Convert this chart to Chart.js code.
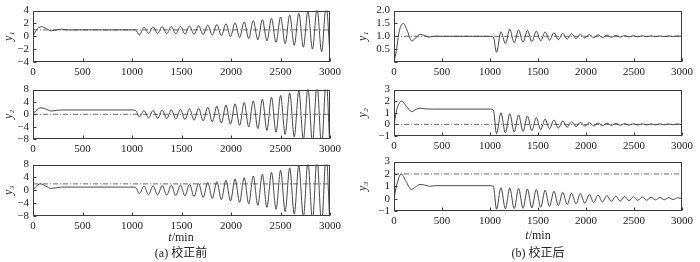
<!DOCTYPE html>
<html><head><meta charset="utf-8">
<script src="https://cdn.jsdelivr.net/npm/chart.js@4.4.1/dist/chart.umd.min.js"></script>
<style>
html,body{margin:0;padding:0;background:#fff;width:700px;height:262px;overflow:hidden;position:relative;}
canvas{position:absolute;}
.cap{position:absolute;width:120px;text-align:center;font-family:"Liberation Serif","Noto Sans CJK SC",serif;font-size:12px;line-height:14px;color:#222;white-space:nowrap;}
</style></head><body>
<canvas id="a1" width="346" height="78" style="left:0;top:0"></canvas>
<canvas id="a2" width="346" height="76" style="left:0;top:79px"></canvas>
<canvas id="a3" width="346" height="78" style="left:0;top:154px"></canvas>
<canvas id="b1" width="341" height="78" style="left:356px;top:0"></canvas>
<canvas id="b2" width="341" height="73" style="left:356px;top:79px"></canvas>
<canvas id="b3" width="341" height="76" style="left:356px;top:151px"></canvas>
<div class="cap" style="left:121px;top:230px"><i>t</i>/min</div>
<div class="cap" style="left:121px;top:246px">(a) 校正前</div>
<div class="cap" style="left:478px;top:228px"><i>t</i>/min</div>
<div class="cap" style="left:478px;top:246px">(b) 校正后</div>
<script>
// ---------- data ----------
const xTicks = [0, 500, 1000, 1500, 2000, 2500, 3000];

// (a) before correction: start-up transient
const tA1Init = [0, 30, 85, 135, 185, 240, 290, 350, 1000, 1035];
const yA1Init = [0, 0.9, 1.5, 1.2, 0.85, 1.0, 1.1, 1.0, 1.0, 1.0];
const tA2Init = [0, 30, 80, 130, 185, 240, 300, 1000, 1035];
const yA2Init = [0, 1.2, 2.1, 1.7, 1.05, 1.3, 1.4, 1.4, 1.3];
const tA3Init = [0, 25, 75, 130, 180, 240, 290, 1000, 1035];
const yA3Init = [0, 1.0, 2.0, 1.3, 0.6, 0.8, 1.0, 1.0, 0.9];
// (a) growing oscillation after the disturbance (extrema times)
const tAOsc = [1075,1121,1167,1213,1259,1305,1351,1397,1443,1489,1535,1581,1627,1673,1719,1765,1811,1857,1903,1949,1995,2041,2087,2133,2179,2225,2271,2317,2363,2409,2455,2501,2547,2593,2639,2685,2731,2777,2823,2869,2915,2961,3000];
const yA1Osc = [0.2,1.4,0.45,1.45,0.45,1.5,0.42,1.52,0.4,1.55,0.35,1.6,0.32,1.65,0.28,1.75,0.2,1.85,0.1,1.95,-0.05,2.1,-0.2,2.25,-0.35,2.45,-0.55,2.6,-0.7,2.8,-0.95,3.0,-1.15,3.3,-1.4,3.6,-1.7,3.9,-2.0,4.3,-2.4,4.8,-2.9];
const yA2Osc = [-0.8,1.2,-1.2,1.25,-1.3,1.35,-1.4,1.45,-1.5,1.6,-1.7,1.8,-1.9,2.0,-2.15,2.3,-2.45,2.6,-2.8,3.0,-3.2,3.4,-3.6,3.85,-4.1,4.35,-4.6,4.9,-5.2,5.5,-5.8,6.1,-6.5,6.9,-7.3,7.7,-8.2,8.7,-9.2,9.7,-10.3,10.9,-11.5];
const yA3Osc = [-1.0,1.3,-1.4,1.4,-1.45,1.5,-1.5,1.55,-1.6,1.65,-1.75,1.85,-1.95,2.1,-2.25,2.4,-2.55,2.7,-2.9,3.1,-3.3,3.5,-3.7,3.95,-4.2,4.45,-4.7,5.0,-5.3,5.6,-5.9,6.2,-6.6,7.0,-7.4,7.8,-8.3,8.8,-9.3,9.8,-10.4,11.0,-11.6];

// (b) after correction: start-up transient
const tB1Init = [0, 25, 55, 97, 140, 184, 230, 270, 320, 357, 420, 1000, 1035];
const yB1Init = [0, 0.45, 1.2, 1.5, 1.2, 0.82, 0.95, 1.07, 1.03, 0.97, 1.0, 1.0, 0.97];
const tB2Init = [0, 30, 80, 130, 184, 230, 270, 330, 400, 1000, 1035];
const yB2Init = [0, 1.3, 2.0, 1.55, 1.1, 1.3, 1.4, 1.33, 1.32, 1.32, 1.25];
const tB3Init = [0, 25, 75, 125, 180, 225, 270, 320, 370, 430, 1000, 1035];
const yB3Init = [0, 1.0, 2.0, 1.4, 0.75, 0.95, 1.15, 1.1, 1.0, 1.05, 1.05, 1.0];
// (b) decaying oscillation after the disturbance (extrema times)
const tBOsc = [1068,1114,1160,1206,1252,1298,1344,1390,1436,1482,1528,1574,1620,1666,1712,1758,1804,1850,1896,1942,1988,2034,2080,2126,2172,2218,2264,2310,2356,2402,2448,2494,2540,2586,2632,2678,2724,2770,2816,2862,2908,2954,3000];
const yB1Osc = [0.38,1.18,0.72,1.27,0.75,1.25,0.77,1.23,0.79,1.2,0.82,1.17,0.85,1.14,0.87,1.12,0.89,1.1,0.91,1.08,0.93,1.07,0.94,1.055,0.95,1.045,0.96,1.035,0.97,1.03,0.975,1.025,0.978,1.02,0.982,1.018,0.985,1.015,0.987,1.013,0.988,1.012,1.0];
const yB2Osc = [-0.8,1.0,-0.72,0.92,-0.65,0.82,-0.6,0.72,-0.53,0.58,-0.45,0.46,-0.38,0.37,-0.31,0.29,-0.25,0.23,-0.2,0.18,-0.16,0.15,-0.13,0.12,-0.11,0.1,-0.09,0.085,-0.075,0.07,-0.065,0.06,-0.055,0.05,-0.045,0.045,-0.04,0.04,-0.035,0.035,-0.03,0.03,0.0];
const yB3Osc = [-0.85,0.88,-0.82,0.85,-0.8,0.82,-0.78,0.78,-0.75,0.74,-0.7,0.68,-0.63,0.6,-0.56,0.52,-0.48,0.45,-0.42,0.4,-0.37,0.34,-0.31,0.29,-0.27,0.25,-0.23,0.21,-0.19,0.18,-0.16,0.15,-0.14,0.13,-0.12,0.11,-0.1,0.09,-0.085,0.08,-0.075,0.07,0.0];

// set-point (dash-dot reference) levels
const refA = [1, 0, 2];
const refB = [1, 0, 2];
const yLabels = ['y\u2081', 'y\u2082', 'y\u2083'];

// ---------- drawing ----------
const FONT = '"Liberation Serif","Times New Roman",serif';
const toPts = (ts, ys) => ts.map((t, i) => ({x: t, y: ys[i]}));

const frame = {
  id: 'frame',
  afterDatasetsDraw(chart) {
    const {ctx, chartArea: a, scales: {x, y}} = chart;
    ctx.save();
    ctx.strokeStyle = '#3c3c3c';
    ctx.lineWidth = 1;
    const L = Math.round(a.left) + 0.5, R = Math.round(a.right) - 0.5;
    const T = Math.round(a.top) + 0.5, B = Math.round(a.bottom) - 0.5;
    ctx.strokeRect(L, T, R - L, B - T);
    ctx.beginPath();
    x.ticks.forEach(tk => {
      const px = Math.round(x.getPixelForValue(tk.value)) + 0.5;
      ctx.moveTo(px, B); ctx.lineTo(px, B - 3);
    });
    y.ticks.forEach(tk => {
      const py = Math.round(y.getPixelForValue(tk.value)) + 0.5;
      ctx.moveTo(L, py); ctx.lineTo(L + 3, py);
    });
    ctx.stroke();
    ctx.restore();
  }
};

function fmtMinus(s) { return String(s).replace('-', '\u2212'); }

function make(id, pts, ref, yMin, yMax, yStep, title, yW, dec, hideZero) {
  new Chart(document.getElementById(id), {
    type: 'line',
    data: {
      datasets: [
        {data: [{x: 0, y: ref}, {x: 3000, y: ref}], borderColor: '#444', borderWidth: 0.8,
         borderDash: [5, 2, 1, 2], pointRadius: 0, tension: 0},
        {data: pts, borderColor: '#333', borderWidth: 0.9, pointRadius: 0,
         tension: 0.4, cubicInterpolationMode: 'monotone'}
      ]
    },
    options: {
      responsive: false, animation: false, devicePixelRatio: 1,
      layout: {padding: {left: 0, top: 7, right: id[0] === 'a' ? 16 : 14, bottom: 0}},
      plugins: {legend: {display: false}, tooltip: {enabled: false}},
      scales: {
        x: {
          type: 'linear', min: 0, max: 3000,
          afterBuildTicks: s => { s.ticks = xTicks.map(v => ({value: v})); },
          afterFit: s => { s.height = 16; },
          grid: {display: false, drawTicks: false}, border: {display: false},
          ticks: {font: {family: FONT, size: 11}, color: '#222', padding: 4, maxRotation: 0,
                  autoSkip: false, callback: v => String(v)}
        },
        y: {
          type: 'linear', min: yMin, max: yMax,
          ticks: {stepSize: yStep, font: {family: FONT, size: 11}, color: '#222', padding: 4,
                  autoSkip: false,
                  callback: v => (hideZero && Math.abs(v) < 1e-9) ? '' : fmtMinus(v.toFixed(dec))},
          afterFit: s => { s.width = yW; },
          grid: {display: false, drawTicks: false}, border: {display: false},
          title: {display: true, text: title, color: '#222',
                  font: {family: FONT, size: 12, style: 'italic'}, padding: {top: id[0] === 'a' ? 2 : 0, bottom: 0}}
        }
      }
    },
    plugins: [frame]
  });
}

make('a1', toPts(tA1Init.concat(tAOsc), yA1Init.concat(yA1Osc)), refA[0], -4, 4, 2, yLabels[0], 33, 0, false);
make('a2', toPts(tA2Init.concat(tAOsc), yA2Init.concat(yA2Osc)), refA[1], -8, 8, 4, yLabels[1], 33, 0, false);
make('a3', toPts(tA3Init.concat(tAOsc), yA3Init.concat(yA3Osc)), refA[2], -8, 8, 4, yLabels[2], 33, 0, false);
make('b1', toPts(tB1Init.concat(tBOsc), yB1Init.concat(yB1Osc)), refB[0], 0, 2, 0.5, yLabels[0], 38, 1, true);
make('b2', toPts(tB2Init.concat(tBOsc), yB2Init.concat(yB2Osc)), refB[1], -1, 3, 1, yLabels[1], 38, 0, false);
make('b3', toPts(tB3Init.concat(tBOsc), yB3Init.concat(yB3Osc)), refB[2], -1, 3, 1, yLabels[2], 38, 0, false);
</script>
</body></html>
